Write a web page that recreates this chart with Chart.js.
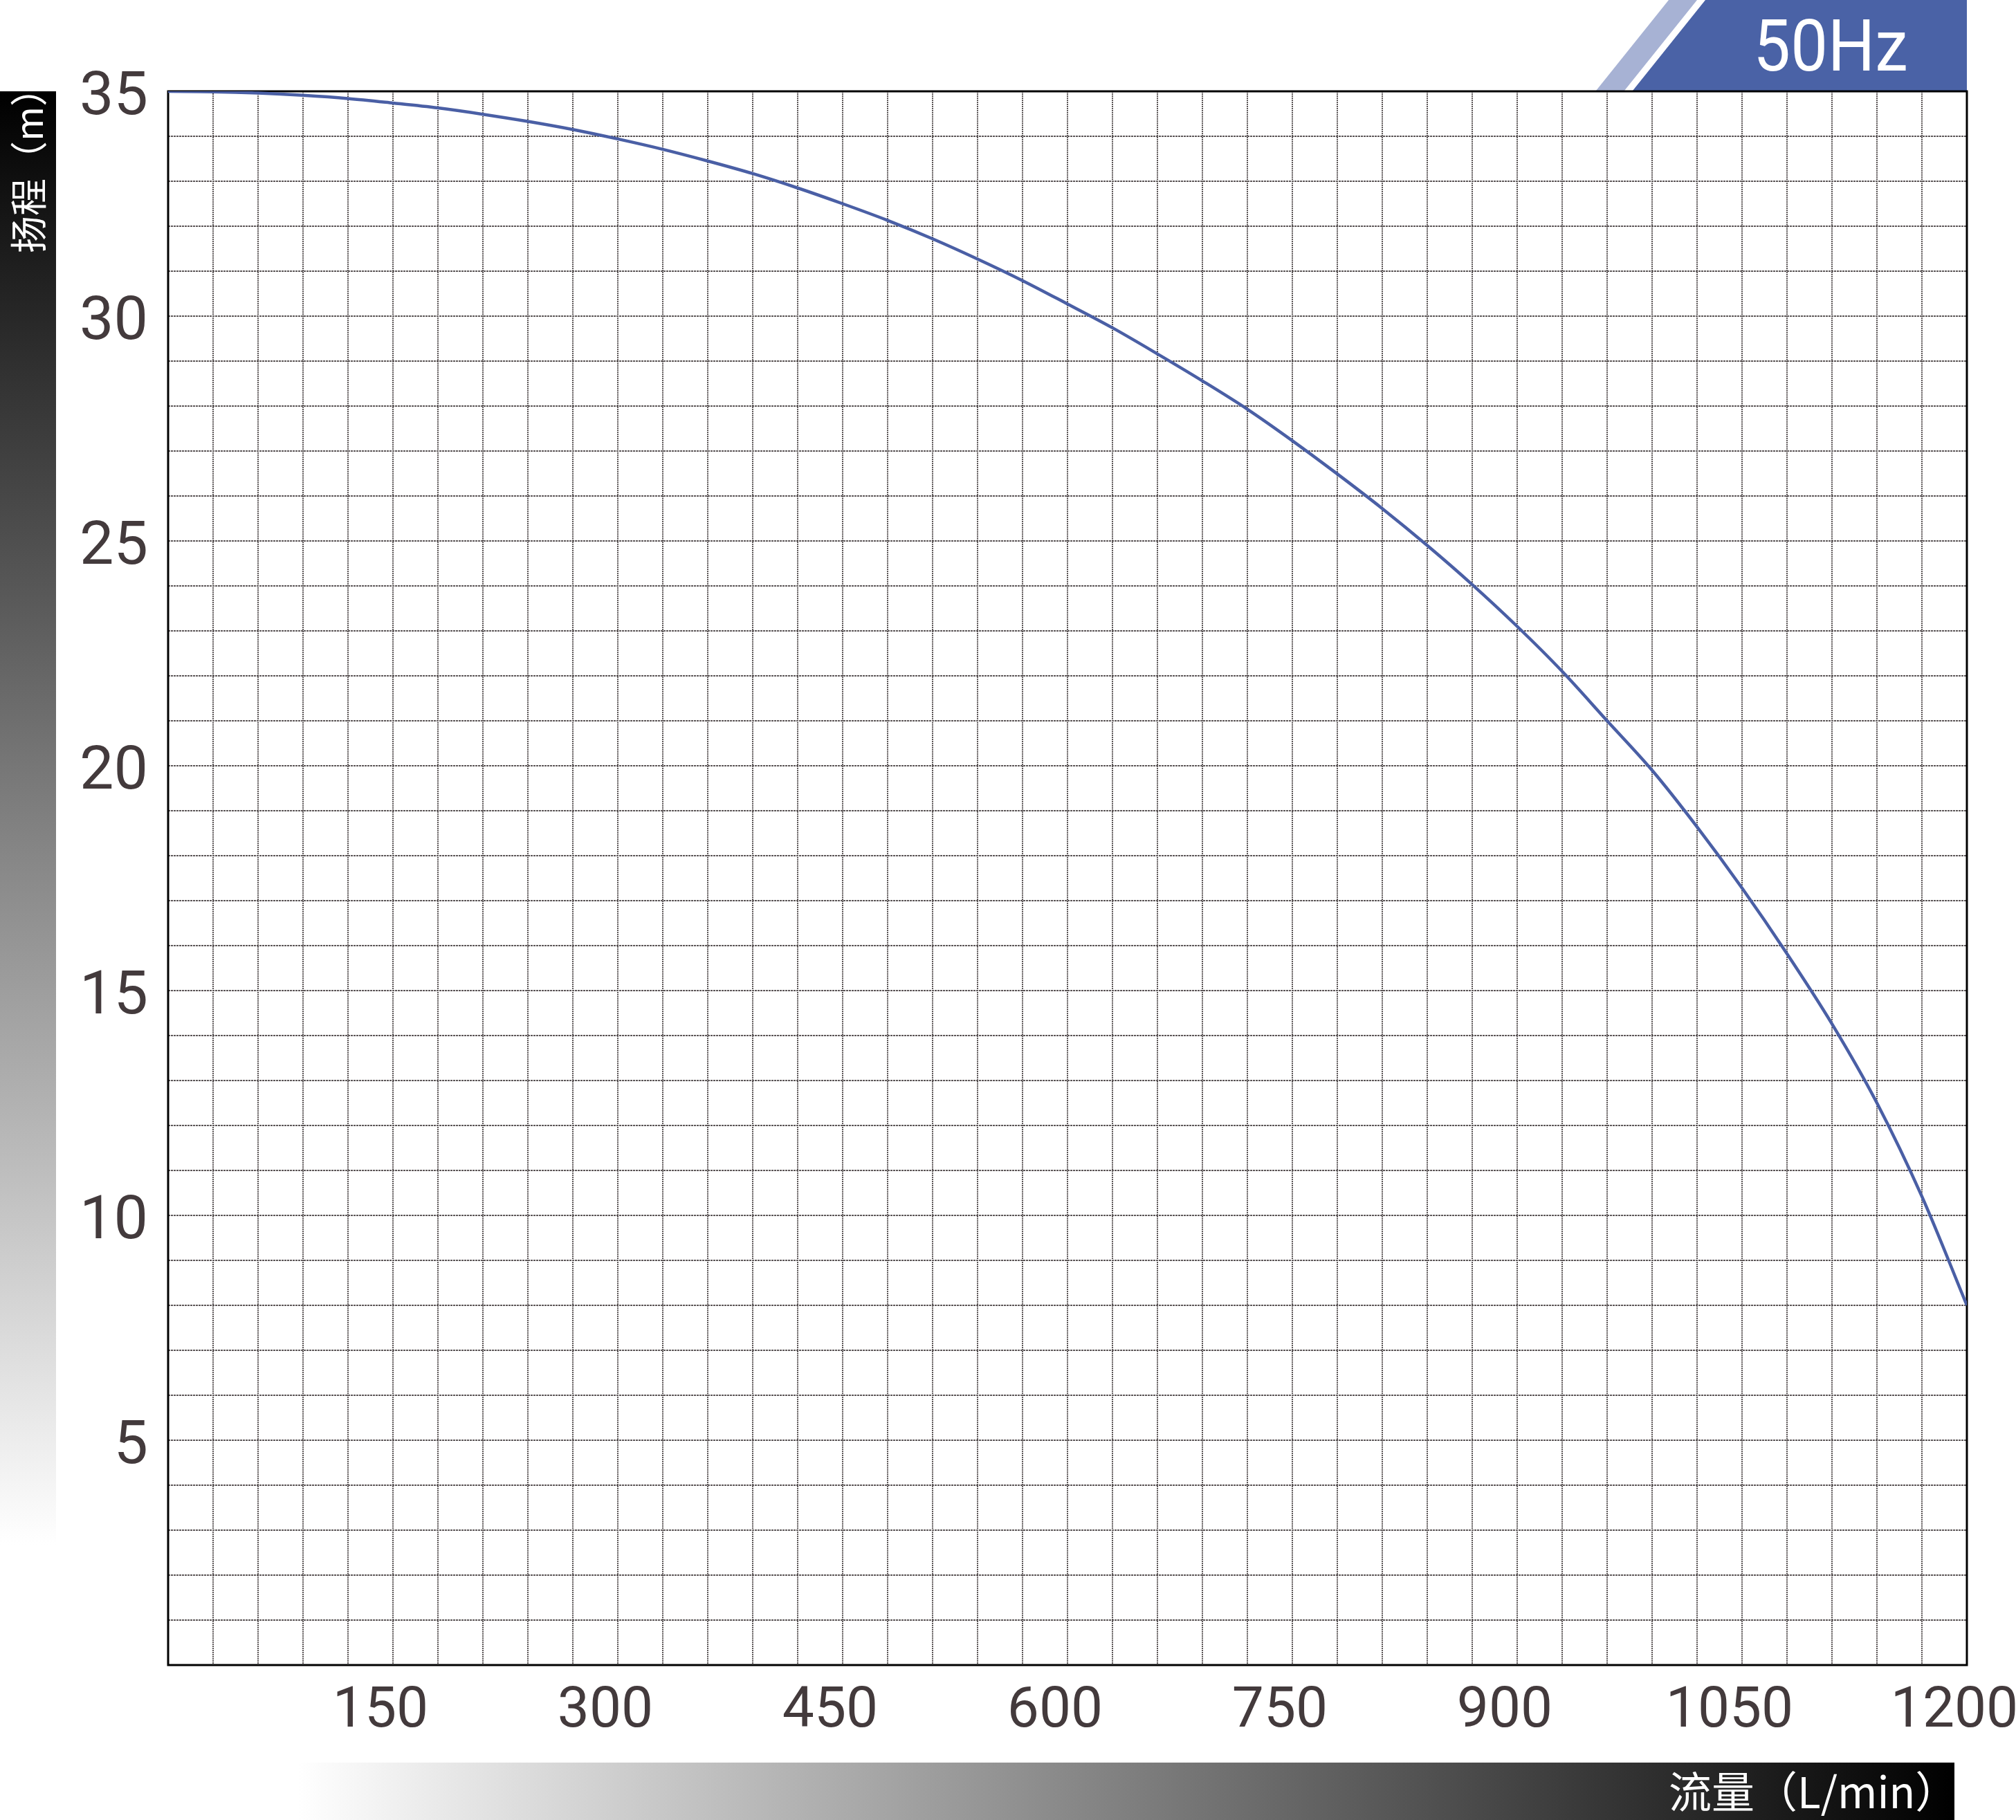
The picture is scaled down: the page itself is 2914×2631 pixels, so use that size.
<!DOCTYPE html>
<html>
<head>
<meta charset="utf-8">
<script src="https://cdn.jsdelivr.net/npm/chart.js@4.4.1/dist/chart.umd.min.js"></script>
<style>
  html, body { margin: 0; padding: 0; background: #ffffff; }
  #wrap { width: 2914px; height: 2631px; position: relative; }
  canvas { display: block; }
</style>
</head>
<body>
<div id="wrap"><canvas id="curve" width="2914" height="2631"></canvas></div>
<script>
// Pump performance curve: flow (L/min) against head (m)
const flow = [0, 30, 60, 90, 120, 150, 180, 210, 240, 270, 300, 330, 360, 390, 420, 450, 480, 510, 540, 570,
              600, 630, 660, 690, 720, 750, 780, 810, 840, 870, 900, 930, 960, 990, 1020, 1050, 1080, 1110, 1140, 1170, 1200];
const head = [35.00, 34.99, 34.96, 34.91, 34.84, 34.74, 34.63, 34.49, 34.33, 34.15, 33.94, 33.71, 33.45, 33.17, 32.85, 32.50, 32.13, 31.72, 31.27, 30.79,
              30.27, 29.74, 29.16, 28.56, 27.93, 27.23, 26.49, 25.72, 24.90, 24.03, 23.10, 22.10, 21.00, 19.90, 18.64, 17.28, 15.82, 14.26, 12.50, 10.42, 8.00];
const xTickLabels = [150, 300, 450, 600, 750, 900, 1050, 1200];
const yTickLabels = [5, 10, 15, 20, 25, 30, 35];
const xTitle = '流量（L/min）';
const yTitle = '扬程（m）';
const badgeText = '50Hz';

const points = flow.map((q, i) => ({ x: q, y: head[i] }));

const CURVE_BLUE = '#4a5fa5';
const GRID_GREY = '#5c5657';
const TICK_TEXT = '#433a3c';

const decor = {
  id: 'decor',
  beforeDraw(chart) {
    const ctx = chart.ctx;
    const { top } = chart.chartArea;
    ctx.save();

    // vertical axis caption band (dark at top, fading to white)
    const bandBottom = 2233;
    const gv = ctx.createLinearGradient(0, top, 0, bandBottom);
    gv.addColorStop(0, '#000000');
    gv.addColorStop(1, '#ffffff');
    ctx.fillStyle = gv;
    ctx.fillRect(0, top, 81, bandBottom - top);

    ctx.fillStyle = '#ffffff';
    ctx.font = '54px "Noto Sans CJK SC"';
    ctx.textAlign = 'left';
    ctx.textBaseline = 'middle';
    ctx.translate(41, 366);
    ctx.rotate(-Math.PI / 2);
    ctx.fillText(yTitle, 0, 0);
    ctx.restore();

    // horizontal axis caption band (white on the left, dark on the right)
    ctx.save();
    const gh = ctx.createLinearGradient(430, 0, 2825, 0);
    gh.addColorStop(0, '#ffffff');
    gh.addColorStop(1, '#000000');
    ctx.fillStyle = gh;
    ctx.fillRect(430, 2548, 2825 - 430, 2631 - 2548);
    ctx.fillStyle = '#ffffff';
    ctx.font = '62px "Noto Sans CJK SC"';
    ctx.textAlign = 'left';
    ctx.textBaseline = 'middle';
    ctx.fillText(xTitle, 2412, 2590);
    ctx.restore();

    // frequency badge
    ctx.save();
    ctx.fillStyle = '#a7b2d4';
    ctx.beginPath();
    ctx.moveTo(2412, 0); ctx.lineTo(2453, 0); ctx.lineTo(2348, 131); ctx.lineTo(2307, 131);
    ctx.closePath(); ctx.fill();
    ctx.fillStyle = '#4a62a6';
    ctx.beginPath();
    ctx.moveTo(2465, 0); ctx.lineTo(2843, 0); ctx.lineTo(2843, 131); ctx.lineTo(2360, 131);
    ctx.closePath(); ctx.fill();
    ctx.fillStyle = '#ffffff';
    ctx.font = '104px Roboto';
    ctx.textAlign = 'center';
    ctx.textBaseline = 'alphabetic';
    ctx.translate(2646, 102);
    ctx.scale(0.92, 1);
    ctx.fillText(badgeText, 0, 0);
    ctx.restore();
  },
  beforeDatasetsDraw(chart) {
    // plot frame
    const ctx = chart.ctx;
    const { left, top, right, bottom } = chart.chartArea;
    ctx.save();
    ctx.strokeStyle = '#000000';
    ctx.lineWidth = 3;
    ctx.strokeRect(left, top, right - left, bottom - top);
    ctx.restore();
  }
};

new Chart(document.getElementById('curve'), {
  type: 'line',
  data: {
    datasets: [{
      data: points,
      borderColor: CURVE_BLUE,
      borderWidth: 4.5,
      pointRadius: 0,
      fill: false,
      cubicInterpolationMode: 'monotone'
    }]
  },
  options: {
    responsive: false,
    animation: false,
    events: [],
    layout: { padding: { left: 0, top: 132, right: 71, bottom: 0 } },
    plugins: { legend: { display: false }, tooltip: { enabled: false } },
    scales: {
      x: {
        type: 'linear',
        min: 0,
        max: 1200,
        afterFit(scale) { scale.height = 224; scale.paddingLeft = 0; scale.paddingRight = 0; },
        grid: { color: GRID_GREY, lineWidth: 2, drawTicks: false },
        border: { display: false, dash: [2, 1] },
        ticks: {
          stepSize: 30,
          autoSkip: false,
          maxRotation: 0,
          minRotation: 0,
          padding: 19,
          labelOffset: -18,
          color: TICK_TEXT,
          font: { family: 'Roboto', size: 82 },
          callback: (v) => xTickLabels.includes(v) ? String(v) : ''
        }
      },
      y: {
        type: 'linear',
        min: 0,
        max: 35,
        afterFit(scale) { scale.width = 243; scale.paddingTop = 0; scale.paddingBottom = 0; },
        grid: { color: GRID_GREY, lineWidth: 2, drawTicks: false },
        border: { display: false, dash: [3, 1] },
        ticks: {
          stepSize: 1,
          autoSkip: false,
          padding: 29,
          labelOffset: 11,
          color: TICK_TEXT,
          font: { family: 'Roboto', size: 88 },
          callback: (v) => yTickLabels.includes(v) ? String(v) : ''
        }
      }
    }
  },
  plugins: [decor]
});
</script>
</body>
</html>
